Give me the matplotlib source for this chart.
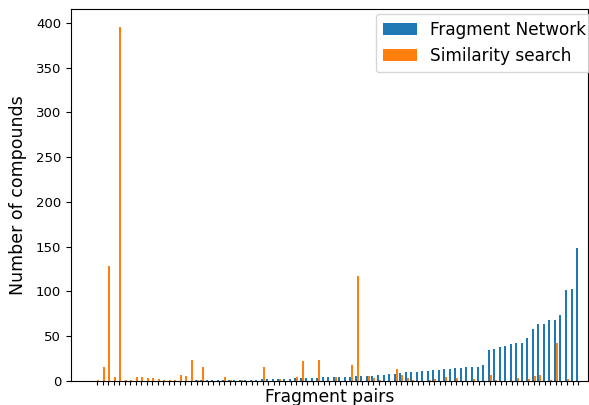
import numpy as np
import matplotlib
matplotlib.use("Agg")
import matplotlib.pyplot as plt

fragment_network = [0]*18 + [1]*12 + [2]*6 + [3]*5 + [4]*4 + [5, 5] + [6]*4 + [7, 7, 8, 8] + \
    [9, 10, 10, 10, 11, 11, 12, 12, 13, 13, 14, 15, 16, 16, 16, 18,
     35, 36, 38, 39, 41, 42, 42, 48, 58, 64, 64, 68, 68, 74, 102, 103, 149]

similarity_search = [1, 16, 128, 4, 395, 1, 1, 4, 4, 3, 3, 2, 1, 1, 1, 7, 6, 23, 1, 16,
                     0, 0, 0, 4, 1, 0, 1, 0, 0, 0, 16, 0, 0, 2, 0, 0, 4, 22, 0, 0,
                     24, 0, 0, 4, 0, 0, 18, 117, 0, 6, 3, 1, 0, 0, 13, 7, 3, 1, 0, 0,
                     1, 2, 0, 5, 0, 3, 0, 0, 2, 0, 0, 7, 1, 0, 0, 0, 3, 0, 2, 6,
                     7, 0, 1, 42, 0, 2, 0, 0]

labels = ["Fragment Network", "Similarity search"]

x = np.arange(len(fragment_network))
w = 0.36

fig = plt.figure(figsize=(5.89, 4.05), dpi=100)
ax = fig.add_axes([71/589, 1-381/405, 517/589, 372/405])
ax.bar(x - w/2, fragment_network, width=w, color="#1f77b4", label=labels[0])
ax.bar(x + w/2, similarity_search, width=w, color="#ff7f0e", label=labels[1])
ax.set_xticks(x)
ax.set_xticklabels([])
ax.tick_params(axis="x", length=3)
ax.tick_params(axis="y", labelsize=9.5)
ax.set_xlim(-4.7, 88.8)
ax.set_ylim(0, 415.6)
ax.set_xlabel("Fragment pairs", fontsize=12.3)
ax.xaxis.set_label_coords(0.5, -0.018)
ax.set_ylabel("Number of compounds", fontsize=12.5)
ax.yaxis.set_label_coords(-0.085, 0.5)
ax.legend(fontsize=12.2, loc="upper left", bbox_to_anchor=(305/517, 1-5/372),
          borderaxespad=0, frameon=True)
fig.savefig("out.png", dpi=100)
